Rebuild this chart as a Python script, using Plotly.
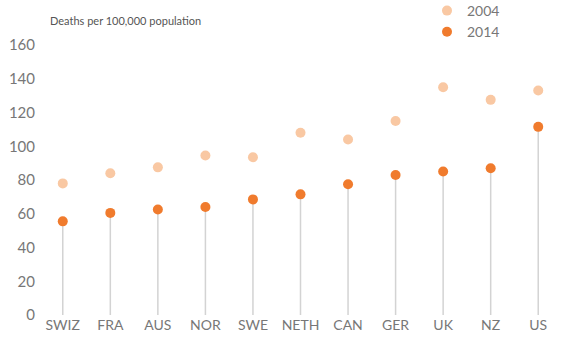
import plotly.graph_objects as go

countries = ["SWIZ", "FRA", "AUS", "NOR", "SWE", "NETH", "CAN", "GER", "UK", "NZ", "US"]
deaths_2004 = [78, 84, 87.5, 94.5, 93.5, 108, 104, 115, 135, 127.5, 133]
deaths_2014 = [55.5, 60.5, 62.5, 64, 68.5, 71.5, 77.5, 83, 85, 87, 111.5]
y_ticks = [0, 20, 40, 60, 80, 100, 120, 140, 160]

idx = list(range(len(countries)))

stem_x, stem_y = [], []
for i, v in zip(idx, deaths_2014):
    stem_x += [i, i, None]
    stem_y += [0, v, None]

fig = go.Figure()
fig.add_trace(go.Scatter(x=stem_x, y=stem_y, mode="lines",
                         line=dict(color="#d3d3d3", width=1.5),
                         showlegend=False, hoverinfo="skip"))
fig.add_trace(go.Scatter(x=idx, y=deaths_2004, mode="markers", name="2004",
                         marker=dict(color="#f9c8a3", size=10)))
fig.add_trace(go.Scatter(x=idx, y=deaths_2014, mode="markers", name="2014",
                         marker=dict(color="#f07b2d", size=10)))

fig.update_layout(
    width=570, height=343,
    margin=dict(l=39, r=8, t=45, b=28, autoexpand=False),
    paper_bgcolor="white", plot_bgcolor="white",
    font=dict(family="Lato, sans-serif", color="#777777"),
    showlegend=True,
    legend=dict(x=427/570, y=1 + 50/270, xref="container", yref="paper",
                xanchor="left", yanchor="top",
                font=dict(size=14, color="#777777"),
                tracegroupgap=0, itemwidth=30,
                bgcolor="rgba(0,0,0,0)"),
    xaxis=dict(range=[-0.5, 10.5], tickmode="array", tickvals=idx, ticktext=countries,
               showgrid=False, zeroline=False, showline=False, ticks="",
               tickfont=dict(size=14, color="#777777")),
    yaxis=dict(range=[0, 160], tickmode="array", tickvals=y_ticks,
               showgrid=False, zeroline=False, showline=False, ticks="",
               ticklabelstandoff=3,
               tickfont=dict(size=15, color="#777777")),
    annotations=[dict(text="Deaths per 100,000 population", xref="paper", yref="paper",
                      x=9/523, y=1.0, xanchor="left", yanchor="bottom",
                      showarrow=False, font=dict(size=11, color="#555555"), yshift=16)],
)
fig.write_html("out.html")
